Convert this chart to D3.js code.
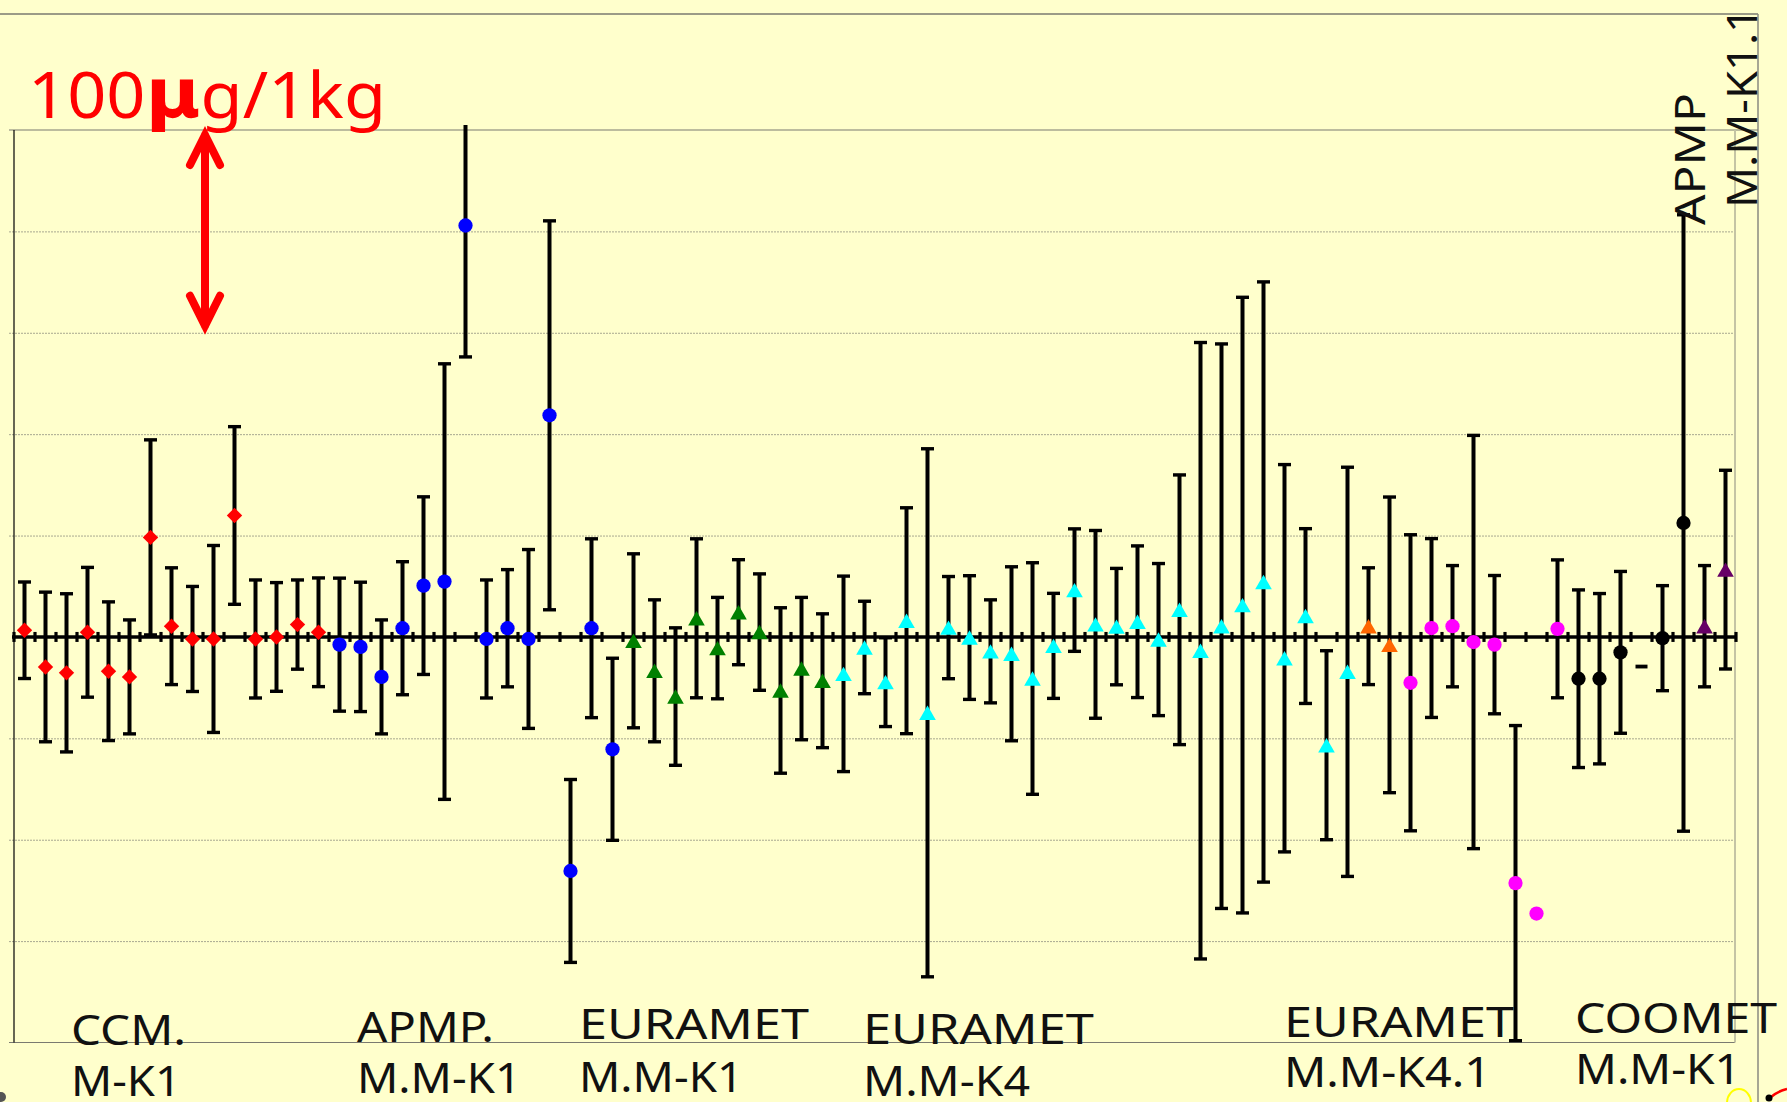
<!DOCTYPE html>
<html><head><meta charset="utf-8">
<script src="https://cdn.jsdelivr.net/npm/d3@7"></script>
<style>html,body{margin:0;padding:0;background:#FFFFCC;overflow:hidden}</style>
</head><body>
<svg id="chart" width="1787" height="1102"></svg>
<script>
// ---------------- data ----------------
const categories = ["1","2","3","4","5","6","7","8","9","10","11","12","13","14","15","16","17","18","19","20",
  "21","22","23","24","25","26","27","28","29","30","31","32","33","34","35","36","37","38","39","40",
  "41","42","43","44","45","46","47","48","49","50","51","52","53","54","55","56","57","58","59","60",
  "61","62","63","64","65","66","67","68","69","70","71","72","73","74","75","76","77","78","79","80","81","82"];
const groups = [
  "CCM","CCM","CCM","CCM","CCM","CCM","CCM","CCM","CCM","CCM","CCM","CCM","CCM","CCM","CCM",
  "APMP","APMP","APMP","APMP","APMP","APMP","APMP","APMP","APMP","APMP","APMP","APMP","APMP","APMP",
  "EUR1","EUR1","EUR1","EUR1","EUR1","EUR1","EUR1","EUR1","EUR1","EUR1",
  "EUR4","EUR4","EUR4","EUR4","EUR4","EUR4","EUR4","EUR4","EUR4","EUR4","EUR4","EUR4","EUR4","EUR4","EUR4",
  "EUR4","EUR4","EUR4","EUR4","EUR4","EUR4","EUR4","EUR4","EUR4","EUR4",
  "EUR41a","EUR41a",
  "EUR41b","EUR41b","EUR41b","EUR41b","EUR41b","EUR41b","EUR41b","EUR41b",
  "COOMET","COOMET","COOMET","COOMETx","COOMET","COOMET",
  "APMP11","APMP11"];
// deviation in µg
const values = [
  3.3,-14.8,-17.7,2.3,-16.9,-19.7,49.1,5.3,-1.0,-1.0,59.9,-1.0,0.0,6.1,2.3,
  -3.8,-4.9,-19.7,4.3,25.3,27.3,202.9,-1.0,4.3,-1.0,109.3,-115.4,4.3,-55.4,
  -1.9,-16.7,-29.4,9.2,-5.5,12.2,2.4,-26.4,-15.6,-21.6,
  -18.2,-5.2,-22.3,8.0,-37.4,4.6,-0.3,-7.1,-8.3,-20.5,-4.4,23.1,6.2,5.1,7.5,
  -1.3,13.4,-6.8,5.3,15.7,27.1,-10.5,10.3,-53.4,-17.2,
  5.3,-3.9,
  -22.6,4.4,5.3,-2.5,-3.8,-121.4,-136.4,4.0,
  -20.6,-20.6,-7.6,-14.6,-0.6,56.2,
  5.3,33.2];
// expanded uncertainty in µg (null = no bar)
const uncertainties = [
  23.8,36.9,39.0,32.0,34.2,28.1,48.1,28.8,25.9,46.1,43.8,29.1,26.8,22.0,26.8,
  32.8,31.9,28.1,32.8,43.8,107.4,64.8,29.1,28.9,44.1,95.9,45.1,44.1,44.9,
  42.9,35.0,33.9,39.2,25.0,25.9,28.7,40.8,35.1,33.0,
  48.2,22.8,21.9,55.7,130.2,25.2,30.5,25.4,42.9,57.1,25.9,30.2,46.3,28.7,37.4,
  37.5,66.5,152.0,139.2,151.8,148.0,95.5,43.1,46.6,100.9,
  28.8,72.9,
  73.0,44.1,29.9,101.9,34.1,77.7,null,34.0,
  43.8,42.0,39.9,null,25.9,152.0,
  29.9,49.0];
const gridValues = [250,200,150,100,50,0,-50,-100,-150,-200];
const groupLabels = [["CCM.","M-K1"],["APMP.","M.M-K1"],["EURAMET","M.M-K1"],["EURAMET","M.M-K4"],["EURAMET","M.M-K4.1"],["COOMET","M.M-K1"]];
const verticalLabels = ["APMP","M.M-K1.1"];
const scaleLabel = ["100","µ","g/1kg"];

// ---------------- styles / layout ----------------
const styleOf = {
  CCM:{color:"#FF0000",shape:"diamond"},
  APMP:{color:"#0000FF",shape:"circle"},
  EUR1:{color:"#008000",shape:"triangle"},
  EUR4:{color:"#00FFFF",shape:"triangle"},
  EUR41a:{color:"#FF6600",shape:"triangle"},
  EUR41b:{color:"#FF00FF",shape:"circle"},
  COOMET:{color:"#000000",shape:"circle"},
  COOMETx:{color:"#000000",shape:"dash"},
  APMP11:{color:"#660066",shape:"triangle"}
};
const W=1787,H=1102;
const plot={left:14,right:1736,top:130,bottom:1042.5};
const svg=d3.select("#chart");
svg.append("rect").attr("width",W).attr("height",H).attr("fill","#FFFFCC");

const x=d3.scaleBand().domain(categories).range([plot.left,plot.right]);
const y=d3.scaleLinear().domain([-200,250]).range([plot.bottom,plot.top]);
const cx=c=>x(c)+x.bandwidth()/2;

// outer frame
svg.append("line").attr("x1",0).attr("x2",1758).attr("y1",14).attr("y2",14).attr("stroke","#7a7a70").attr("stroke-width",1.5);
svg.append("line").attr("x1",1758).attr("x2",1758).attr("y1",14).attr("y2",H).attr("stroke","#8a8a80").attr("stroke-width",1.5);

// gridlines via axis
const gridG=svg.append("g").attr("transform","translate(9,0)")
  .call(d3.axisLeft(y).tickValues(gridValues.filter(v=>v!==0&&v!==250&&v!==-200)).tickSize(-(1735-9)).tickFormat(""));
gridG.select(".domain").remove();
gridG.selectAll(".tick line").attr("stroke","#a8a890").attr("stroke-width",1).attr("stroke-dasharray","2,1");
// top & bottom borders
svg.append("line").attr("x1",9).attr("x2",1758).attr("y1",y(250)).attr("y2",y(250)).attr("stroke","#7a7a70").attr("stroke-width",1.2);
svg.append("line").attr("x1",9).attr("x2",1735).attr("y1",y(-200)).attr("y2",y(-200)).attr("stroke","#7a7a70").attr("stroke-width",1.2);
// left axis
svg.append("line").attr("x1",plot.left).attr("x2",plot.left).attr("y1",y(250)).attr("y2",y(-200)).attr("stroke","#000").attr("stroke-width",1.2);
// right plot border
svg.append("line").attr("x1",1735).attr("x2",1735).attr("y1",y(250)).attr("y2",y(-200)).attr("stroke","#c4c4a4").attr("stroke-width",2);

// zero axis with ticks at category boundaries
const y0=y(0);
svg.append("line").attr("x1",plot.left-2).attr("x2",plot.right+1).attr("y1",y0).attr("y2",y0).attr("stroke","#000").attr("stroke-width",3.6);
const bounds=categories.map(c=>x(c)).concat([plot.right]);
svg.append("g").selectAll("line").data(bounds).join("line")
  .attr("x1",d=>d).attr("x2",d=>d).attr("y1",y0-5).attr("y2",y0+5).attr("stroke","#000").attr("stroke-width",3.2);

// data
const pts=categories.map((c,i)=>({c,g:groups[i],v:values[i],u:uncertainties[i]}));
svg.append("defs").append("clipPath").attr("id","clip").append("rect").attr("x",0).attr("y",125).attr("width",W).attr("height",H);
const eb=svg.append("g").attr("clip-path","url(#clip)");
const withBars=pts.filter(d=>d.u!=null);
const bw=4, cap=6.5;
eb.selectAll("line.bar").data(withBars).join("line").attr("class","bar")
  .attr("x1",d=>cx(d.c)).attr("x2",d=>cx(d.c)).attr("y1",d=>y(d.v+d.u)).attr("y2",d=>y(d.v-d.u))
  .attr("stroke","#000").attr("stroke-width",bw);
eb.selectAll("line.capt").data(withBars).join("line").attr("class","capt")
  .attr("x1",d=>cx(d.c)-cap).attr("x2",d=>cx(d.c)+cap).attr("y1",d=>y(d.v+d.u)).attr("y2",d=>y(d.v+d.u))
  .attr("stroke","#000").attr("stroke-width",3.4);
eb.selectAll("line.capb").data(withBars).join("line").attr("class","capb")
  .attr("x1",d=>cx(d.c)-cap).attr("x2",d=>cx(d.c)+cap).attr("y1",d=>y(d.v-d.u)).attr("y2",d=>y(d.v-d.u))
  .attr("stroke","#000").attr("stroke-width",3.4);

const triSize=120, triY=Math.sqrt(triSize/(Math.sqrt(3)*3));
const symOf={
  circle:d3.symbol().type(d3.symbolCircle).size(160),
  diamond:d3.symbol().type(d3.symbolSquare).size(118),
  triangle:d3.symbol().type(d3.symbolTriangle).size(triSize)
};
const mk=svg.append("g");
pts.forEach(d=>{
  const st=styleOf[d.g];
  const px=cx(d.c), py=y(d.v);
  if(st.shape==="dash"){
    mk.append("line").attr("x1",px-6).attr("x2",px+6).attr("y1",py).attr("y2",py).attr("stroke",st.color).attr("stroke-width",3.8);
  } else if(st.shape==="diamond"){
    mk.append("path").attr("d",symOf.diamond()).attr("fill",st.color).attr("transform",`translate(${px},${py}) rotate(45)`);
  } else if(st.shape==="triangle"){
    mk.append("path").attr("d",symOf.triangle()).attr("fill",st.color).attr("transform",`translate(${px},${py+triY/2})`);
  } else {
    mk.append("path").attr("d",symOf.circle()).attr("fill",st.color).attr("transform",`translate(${px},${py})`);
  }
});

// scale label and arrow
const sl=svg.append("text").attr("x",28).attr("y",118).attr("fill","#FF0000")
  .attr("font-family","Noto Sans, DejaVu Sans, sans-serif").attr("font-size",64).attr("textLength",358).attr("lengthAdjust","spacingAndGlyphs");
sl.append("tspan").text(scaleLabel[0]);
sl.append("tspan").attr("font-weight","bold").attr("font-family","DejaVu Sans").attr("font-size",70).text(scaleLabel[1]);
sl.append("tspan").text(scaleLabel[2]);
const ax=205, aTop=y(250)+5, aBot=y(150)-7;
svg.append("path").attr("d",`M${ax},${aTop}L${ax},${aBot}M${ax-15},${aTop+30}L${ax},${aTop}L${ax+15},${aTop+30}M${ax-15},${aBot-30}L${ax},${aBot}L${ax+15},${aBot-30}`)
  .attr("fill","none").attr("stroke","#FF0000").attr("stroke-width",8).attr("stroke-linecap","round").attr("stroke-linejoin","miter");

// group labels
const labelPos=[
  {x:71,y1:1045,y2:1096,w1:115,w2:110},
  {x:357,y1:1042,y2:1093,w1:137,w2:164},
  {x:579,y1:1039,y2:1092,w1:230,w2:164},
  {x:863,y1:1044,y2:1096,w1:231,w2:167},
  {x:1284,y1:1037,y2:1087,w1:230,w2:207},
  {x:1575,y1:1033,y2:1084,w1:202,w2:166}
];
const font="Noto Sans, DejaVu Sans, sans-serif";
groupLabels.forEach((lab,i)=>{
  const p=labelPos[i];
  svg.append("text").attr("x",p.x).attr("y",p.y1).attr("font-family",font).attr("font-size",42).attr("fill","#111")
    .attr("textLength",p.w1).attr("lengthAdjust","spacingAndGlyphs").text(lab[0]);
  svg.append("text").attr("x",p.x).attr("y",p.y2).attr("font-family",font).attr("font-size",42).attr("fill","#111")
    .attr("textLength",p.w2).attr("lengthAdjust","spacingAndGlyphs").text(lab[1]);
});
svg.append("text").attr("transform","translate(1704.5,225) rotate(-90)").attr("font-family",font).attr("font-size",42).attr("fill","#111")
  .attr("textLength",132).attr("lengthAdjust","spacingAndGlyphs").text(verticalLabels[0]);
svg.append("text").attr("transform","translate(1757,208) rotate(-90)").attr("font-family",font).attr("font-size",42).attr("fill","#111")
  .attr("textLength",201).attr("lengthAdjust","spacingAndGlyphs").text(verticalLabels[1]);

// small clipped drawing fragments at the bottom edge
svg.append("ellipse").attr("cx",1739).attr("cy",1103).attr("rx",12).attr("ry",14).attr("fill","none").attr("stroke","#FFFF00").attr("stroke-width",2);
svg.append("path").attr("d","M1771,1097 Q1778,1091 1787,1089").attr("fill","none").attr("stroke","#FF0000").attr("stroke-width",2.5);
svg.append("circle").attr("cx",1769).attr("cy",1098).attr("r",3.5).attr("fill","#000");
svg.append("circle").attr("cx",1).attr("cy",1097).attr("r",5).attr("fill","#555");
</script>
</body></html>
